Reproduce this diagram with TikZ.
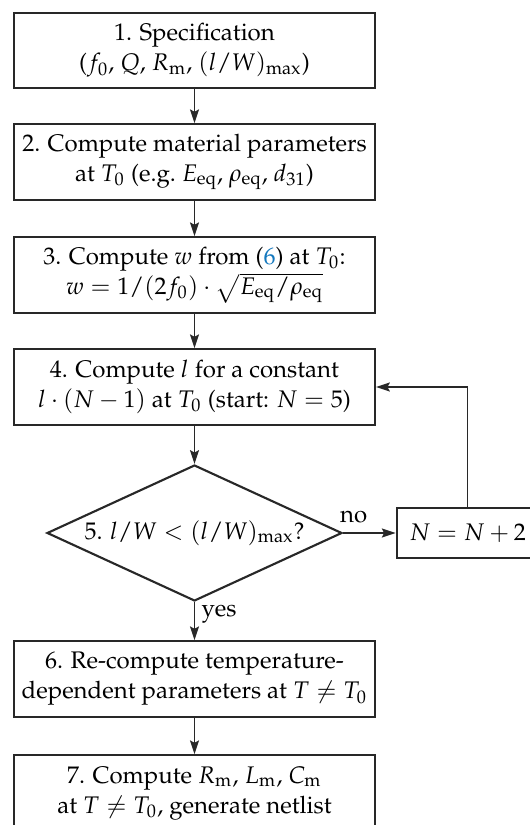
\documentclass[tikz,border=0pt]{standalone}
\usepackage[T1]{fontenc}
\usepackage{mathpazo}
\usetikzlibrary{shapes.geometric,arrows.meta}
\definecolor{linecol}{RGB}{40,40,40}
\definecolor{linkblue}{RGB}{20,120,190}
\begin{document}
\begin{tikzpicture}[x=0.4pt,y=-0.4pt,
  procbox/.style={draw=linecol, line width=0.85pt, rectangle, align=center,
    minimum width=144.4pt, minimum height=30.2pt, inner sep=0pt, font=\fontsize{9.6}{12}\selectfont},
  decbox/.style={draw=linecol, line width=0.85pt, diamond, shape aspect=2.17,
    minimum width=118pt, minimum height=54.4pt, inner sep=0pt, font=\fontsize{9.6}{12}\selectfont},
  arr/.style={draw=linecol, line width=0.6pt, -{Stealth[length=5.5pt,width=3.6pt,inset=0.9pt]}},
  lab/.style={inner sep=0pt, font=\fontsize{9.6}{12}\selectfont}
]
\useasboundingbox (0,0) rectangle (530,825);
\node[procbox] (b1) at (194.5,50.5) {1. Specification\\ ($f_0$, $Q$, $R_\mathrm{m}$, $(l/W)_{\max}$)};
\node[procbox] (b2) at (194.5,162) {2. Compute material parameters\\ at $T_0$ (e.g.\ $E_\mathrm{eq}$, $\rho_\mathrm{eq}$, $d_{31}$)};
\node[procbox] (b3) at (194.5,275) {3. Compute $w$ from ({\color{linkblue}6}) at $T_0$:\\ $w=1/(2f_0)\cdot\sqrt{E_\mathrm{eq}/\rho_\mathrm{eq}}$};
\node[procbox] (b4) at (194.5,387) {4. Compute $l$ for a constant\\ $l\cdot(N-1)$ at $T_0$ (start: $N=5$)};
\node[decbox] (d5) at (194.5,533) {5. $l/W<(l/W)_{\max}$?};
\node[procbox, minimum width=56.8pt, minimum height=19.9pt] (nb) at (467.7,533) {$N=N+2$};
\node[procbox] (b6) at (194.5,679) {6. Re-compute temperature-\\ dependent parameters at $T\neq T_0$};
\node[procbox] (b7) at (194.5,793) {7. Compute $R_\mathrm{m}$, $L_\mathrm{m}$, $C_\mathrm{m}$\\ at $T\neq T_0$, generate netlist};
\draw[arr] (b1) -- (b2);
\draw[arr] (b2) -- (b3);
\draw[arr] (b3) -- (b4);
\draw[arr] (b4) -- (d5);
\draw[arr] (d5.east) -- node[lab, pos=0, anchor=south west, xshift=-1.5pt, yshift=3.5pt]{no} (nb.west);
\draw[arr] (d5.south) -- node[lab, pos=0, anchor=north west, xshift=2.5pt, yshift=-1pt]{yes} (b6.north);
\draw[arr] (b6) -- (b7);
\draw[arr] (nb.north) |- (b4.east);
\end{tikzpicture}
\end{document}
